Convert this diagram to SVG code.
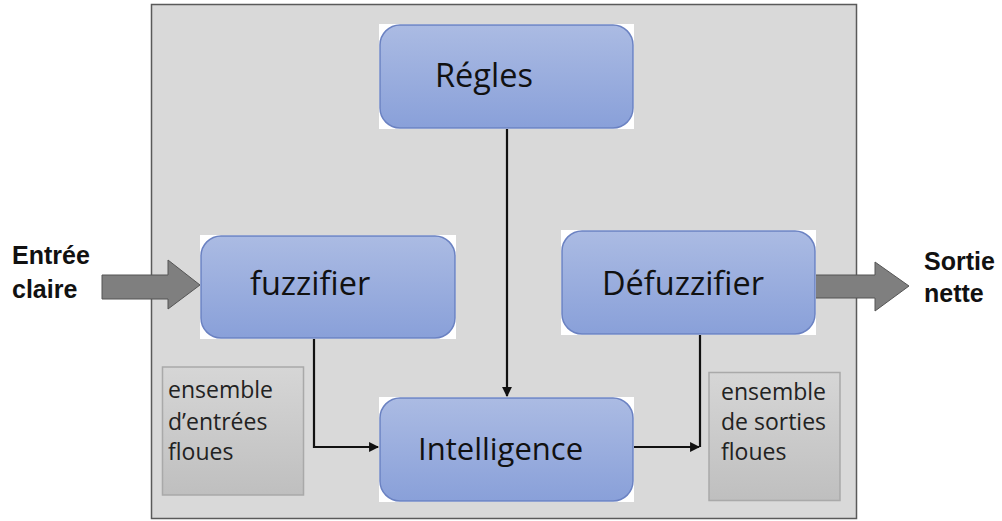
<svg xmlns="http://www.w3.org/2000/svg" width="1002" height="521" viewBox="0 0 1002 521">
  <style>
    .frame { fill: #d9d9d9; stroke: #5a5a5a; stroke-width: 1.5; }
    .mat { fill: #ffffff; }
    .block { fill: url(#blueGrad); stroke: #6b82c2; stroke-width: 1.5; }
    .note { fill: url(#grayGrad); stroke: #a9a9a9; stroke-width: 1.5; }
    .bigArrow { fill: #7f7f7f; stroke: #555555; stroke-width: 1; }
    .wire { fill: none; stroke: #111111; stroke-width: 2.2; }
    .label { font-family: "Open Sans", "Liberation Sans", sans-serif; font-size: 32.5px; fill: #111111; }
    .noteText { font-family: "Open Sans", "Liberation Sans", sans-serif; font-size: 23px; fill: #222222; }
    .ioText { font-family: "Liberation Sans", Arial, sans-serif; font-size: 25px; font-weight: bold; fill: #111111; }
  </style>
  <defs>
    <linearGradient id="blueGrad" x1="0" y1="0" x2="0" y2="1">
      <stop offset="0" stop-color="#abbbe3"/>
      <stop offset="1" stop-color="#89a0d9"/>
    </linearGradient>
    <linearGradient id="grayGrad" x1="0" y1="0" x2="0" y2="1">
      <stop offset="0" stop-color="#d6d6d6"/>
      <stop offset="1" stop-color="#bfbfbf"/>
    </linearGradient>
    <marker id="tip" viewBox="0 0 10 10" refX="9" refY="5" markerWidth="4.5" markerHeight="4.5" orient="auto" markerUnits="strokeWidth">
      <path d="M0,0 L10,5 L0,10 z" fill="#111111"/>
    </marker>
  </defs>

  <rect width="1002" height="521" fill="#ffffff"/>

  <!-- system boundary -->
  <rect class="frame" x="151.5" y="4.5" width="705" height="514"/>

  <!-- input / output arrows -->
  <g id="input">
    <path class="bigArrow" d="M102,275 L168,275 L168,260 L200,285 L168,309 L168,299 L102,299 z"/>
    <text class="ioText" x="12" y="264">Entrée</text>
    <text class="ioText" x="12" y="298">claire</text>
  </g>
  <g id="output">
    <path class="bigArrow" d="M815,275 L875,275 L875,262 L909,286 L875,311 L875,298 L815,298 z"/>
    <text class="ioText" x="924" y="270">Sortie</text>
    <text class="ioText" x="924" y="302">nette</text>
  </g>

  <!-- connectors -->
  <g id="connectors">
    <path class="wire" d="M507,129 L507,396" marker-end="url(#tip)"/>
    <path class="wire" d="M314,339 L314,447 L378,447" marker-end="url(#tip)"/>
    <path class="wire" d="M700,334 L700,447"/>
    <path class="wire" d="M634,447 L699,447" marker-end="url(#tip)"/>
  </g>

  <g id="regles">
    <rect class="mat" x="379" y="24" width="255" height="105"/>
    <rect class="block" x="380" y="25" width="253" height="103" rx="20"/>
    <text class="label" x="435" y="87">Régles</text>
  </g>

  <g id="fuzzifier">
    <rect class="mat" x="200" y="235" width="256" height="104"/>
    <rect class="block" x="201" y="236" width="254" height="102" rx="20"/>
    <text class="label" x="250" y="295">fuzzifier</text>
  </g>

  <g id="defuzzifier">
    <rect class="mat" x="561" y="230" width="255" height="105"/>
    <rect class="block" x="562" y="231" width="253" height="103" rx="20"/>
    <text class="label" x="602" y="295">Défuzzifier</text>
  </g>

  <g id="intelligence">
    <rect class="mat" x="379" y="397" width="255" height="105"/>
    <rect class="block" x="380" y="398" width="253" height="103" rx="20"/>
    <text class="label" x="418" y="460" style="font-size:31px">Intelligence</text>
  </g>

  <g id="fuzzy-inputs">
    <rect class="note" x="162.5" y="367" width="141" height="128"/>
    <text class="noteText" x="168" y="398">ensemble</text>
    <text class="noteText" x="168" y="430">d’entrées</text>
    <text class="noteText" x="168" y="460">floues</text>
  </g>

  <g id="fuzzy-outputs">
    <rect class="note" x="709" y="372.5" width="131" height="128"/>
    <text class="noteText" x="721" y="400">ensemble</text>
    <text class="noteText" x="721" y="430">de sorties</text>
    <text class="noteText" x="721" y="460">floues</text>
  </g>
</svg>
